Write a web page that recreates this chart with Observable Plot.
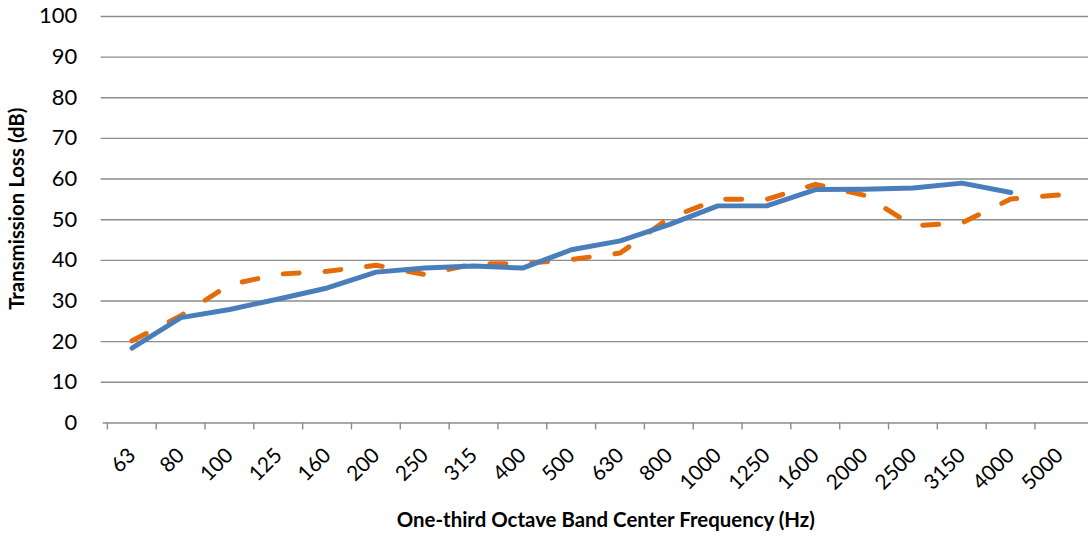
<!DOCTYPE html>
<html>
<head>
<meta charset="utf-8">
<script src="https://cdn.jsdelivr.net/npm/d3@7"></script>
<script src="https://cdn.jsdelivr.net/npm/@observablehq/plot@0.6"></script>
<style>
  html, body { margin: 0; padding: 0; background: #fff; overflow: hidden; width: 1088px; height: 540px; }
  #chart svg { display: block; }
</style>
</head>
<body>
<div id="chart"></div>
<script>
// ---- data ----
const frequencies = ["63","80","100","125","160","200","250","315","400","500","630","800","1000","1250","1600","2000","2500","3150","4000","5000"];
const seriesSolid = [18.4, 25.9, 27.9, 30.5, 33.2, 37.1, 38.1, 38.6, 38.1, 42.6, 44.8, 48.8, 53.4, 53.4, 57.4, 57.5, 57.8, 59.0, 56.7, null];
const seriesDashed = [20.2, 26.4, 34.0, 36.6, 37.3, 38.8, 36.5, 39.1, 39.2, 40.2, 41.8, 50.4, 55.0, 55.0, 58.7, 56.0, 48.5, 49.2, 55.1, 56.1];
const yTicks = [0, 10, 20, 30, 40, 50, 60, 70, 80, 90, 100];
const xTitle = "One-third Octave Band Center Frequency (Hz)";
const yTitle = "Transmission Loss (dB)";

const solidData = frequencies.map((f, i) => ({f, v: seriesSolid[i]})).filter(d => d.v != null);
const dashedData = frequencies.map((f, i) => ({f, v: seriesDashed[i]})).filter(d => d.v != null);

const W = 1092, H = 540, ML = 103, MR = 0, MT = 16, MB = 116;
const step = (W - ML - MR) / frequencies.length;
const grid = "#8c8c8c";

const chart = Plot.plot({
  width: W,
  height: H,
  marginLeft: ML,
  marginRight: MR,
  marginTop: MT,
  marginBottom: MB,
  style: {fontFamily: "Lato, 'Open Sans', sans-serif", background: "white", color: "#000", overflow: "visible"},
  x: {type: "point", domain: frequencies, padding: 0.5, axis: null},
  y: {domain: [0, 100], axis: null},
  marks: [
    Plot.ruleY(yTicks.filter(d => d > 0), {y: d => d, stroke: grid, strokeWidth: 1.4, insetLeft: -2}),
    Plot.ruleY([0], {y: d => d, stroke: grid, strokeWidth: 1.4}),
    Plot.ruleX(frequencies, {x: d => d, y1: 0, y2: 0, dx: -step / 2, insetBottom: -7, stroke: grid, strokeWidth: 1.4}),
    Plot.axisY({ticks: yTicks, tickSize: 0, tickPadding: 26, fontSize: 22, label: null, fill: "#000"}),
    Plot.text(frequencies, {x: d => d, y: () => 0, text: d => d, rotate: -45, textAnchor: "end", lineAnchor: "middle", dx: 0, dy: 29, fontSize: 21, fill: "#000"}),
    Plot.text([xTitle], {frameAnchor: "bottom", text: d => d, dx: 10, dy: 98, fontSize: 20.5, fontWeight: "bold", lineAnchor: "middle", fill: "#000"}),
    Plot.text([yTitle], {frameAnchor: "left", text: d => d, dx: -86, dy: -11, rotate: -90, fontSize: 20.5, fontWeight: "bold", lineAnchor: "middle", textAnchor: "middle", fill: "#000"}),
    Plot.line(dashedData, {x: "f", y: "v", stroke: "#E46C0A", strokeWidth: 5, strokeDasharray: "16,26", strokeLinecap: "round", strokeLinejoin: "round"}),
    Plot.line(solidData, {x: "f", y: "v", stroke: "#4A7EBB", strokeWidth: 5, strokeLinejoin: "round"})
  ]
});
document.getElementById("chart").appendChild(chart);
</script>
</body>
</html>
